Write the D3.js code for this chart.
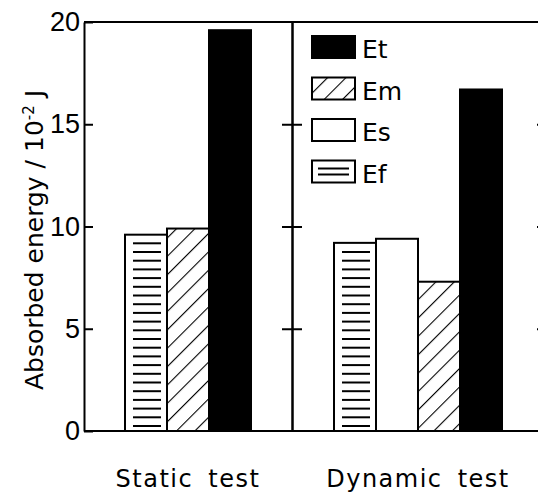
<!DOCTYPE html>
<html>
<head>
<meta charset="utf-8">
<script src="https://cdn.jsdelivr.net/npm/d3@7"></script>
<style>
  html, body { margin: 0; padding: 0; background: #fff; }
  svg { display: block; }
  text { font-family: "DejaVu Sans", sans-serif; fill: #000; }
</style>
</head>
<body>
<svg id="chart" width="538" height="493"></svg>
<script>
// Absorbed energy per test type (units of 10^-2 J)
const categories = ["Static test", "Dynamic test"];
const seriesNames = ["Ef", "Es", "Em", "Et"];
const Ef = [9.6, 9.2];
const Es = [null, 9.4];   // not measured in the static test
const Em = [9.9, 7.3];
const Et = [19.6, 16.7];
const yTicks = [0, 5, 10, 15, 20];
const legendOrder = ["Et", "Em", "Es", "Ef"];

const values = { Ef, Es, Em, Et };

const W = 538, H = 493;
const svg = d3.select("#chart");

const y = d3.scaleLinear().domain([0, 20]).range([431, 22]);
const x = d3.scaleBand().domain(categories).range([73, 533]);
const barW = 42;
const left = 84, divider = 292, farRight = 547;

// fill patterns
const defs = svg.append("defs");
const hatch = defs.append("pattern")
  .attr("id", "hatch")
  .attr("patternUnits", "userSpaceOnUse")
  .attr("width", 13).attr("height", 13)
  .attr("patternTransform", "rotate(45)");
hatch.append("rect").attr("width", 13).attr("height", 13).attr("fill", "#fff");
hatch.append("line")
  .attr("x1", 0).attr("y1", -2).attr("x2", 0).attr("y2", 15)
  .attr("stroke", "#000").attr("stroke-width", 2.2);

const fillFor = { Et: "#000", Em: "url(#hatch)", Es: "#fff", Ef: "#fff" };

// horizontal rules inside the Ef boxes
function drawRules(g, x0, w, yTop, yBot, step, inset) {
  const lines = [];
  for (let yy = yBot - 5; yy > yTop + 5; yy -= step) lines.push(yy);
  g.selectAll(null).data(lines).join("line")
    .attr("x1", x0 + inset[0]).attr("x2", x0 + w - inset[1])
    .attr("y1", d => d).attr("y2", d => d)
    .attr("stroke", "#000").attr("stroke-width", 2);
}

// bars
const bars = [];
categories.forEach((cat, ci) => {
  const present = seriesNames.filter(s => values[s][ci] != null);
  const start = x(cat) + x.bandwidth() / 2 - present.length * barW / 2;
  present.forEach((s, i) => bars.push({ cat, s, v: values[s][ci], x0: start + i * barW }));
});

const barG = svg.append("g");
bars.forEach(b => {
  const g = barG.append("g");
  g.append("rect")
    .attr("x", b.x0).attr("y", y(b.v))
    .attr("width", barW).attr("height", y(0) - y(b.v))
    .attr("fill", fillFor[b.s])
    .attr("stroke", "#000").attr("stroke-width", 2);
  if (b.s === "Ef") drawRules(g, b.x0, barW, y(b.v), y(0), 8.7, [8, 6]);
});

// frame lines
svg.append("line").attr("x1", left).attr("x2", W).attr("y1", y(20)).attr("y2", y(20))
  .attr("stroke", "#000").attr("stroke-width", 2);
svg.append("line").attr("x1", left).attr("x2", W).attr("y1", y(0)).attr("y2", y(0))
  .attr("stroke", "#000").attr("stroke-width", 2);

// left value axis, ticks pointing inward
const yAxis = svg.append("g")
  .attr("transform", `translate(${left},0)`)
  .call(d3.axisLeft(y).tickValues(yTicks).tickSizeInner(-9).tickSizeOuter(0).tickPadding(4));
yAxis.selectAll("path, line").attr("stroke", "#000").attr("stroke-width", 2);
yAxis.selectAll("text")
  .style("font-family", "'Liberation Sans', sans-serif")
  .style("font-size", "27px");

// panel dividers with crossing ticks
[divider, farRight].forEach(px => {
  const inner = yTicks.slice(1, -1);
  const gl = svg.append("g").attr("transform", `translate(${px},0)`)
    .call(d3.axisLeft(y).tickValues(inner).tickSize(10).tickSizeOuter(0).tickFormat(""));
  const gr = svg.append("g").attr("transform", `translate(${px},0)`)
    .call(d3.axisRight(y).tickValues(inner).tickSize(10).tickSizeOuter(0).tickFormat(""));
  [gl, gr].forEach(g => g.selectAll("path, line").attr("stroke", "#000").attr("stroke-width", 2));
});

// category labels
const xAxis = svg.append("g")
  .attr("transform", `translate(0,${y(0)})`)
  .call(d3.axisBottom(x).tickSize(0).tickPadding(38.5));
xAxis.select(".domain").remove();
xAxis.selectAll("text")
  .style("font-family", "'DejaVu Sans', sans-serif")
  .style("font-size", "24px")
  .style("letter-spacing", "1.5px")
  .style("word-spacing", "6px");

// y-axis title
const title = svg.append("text")
  .attr("transform", "translate(43,240) rotate(-90)")
  .attr("text-anchor", "middle")
  .style("font-size", "25px");
title.append("tspan").text("Absorbed energy / 10");
title.append("tspan").attr("baseline-shift", "super").style("font-size", "15px").text("-2");
title.append("tspan").text(" J");

// legend
const legend = svg.append("g");
legendOrder.forEach((s, i) => {
  const base = 58 + i * 41.5;
  const g = legend.append("g");
  g.append("rect")
    .attr("x", 312).attr("y", base - 22)
    .attr("width", 43).attr("height", 22)
    .attr("fill", fillFor[s]).attr("stroke", "#000").attr("stroke-width", 2);
  if (s === "Ef") {
    [base - 14, base - 8].forEach(yy => g.append("line")
      .attr("x1", 318).attr("x2", 349).attr("y1", yy).attr("y2", yy)
      .attr("stroke", "#000").attr("stroke-width", 2));
  }
  g.append("text").attr("x", 362).attr("y", base)
    .style("font-size", "25px").text(s);
});
</script>
</body>
</html>
